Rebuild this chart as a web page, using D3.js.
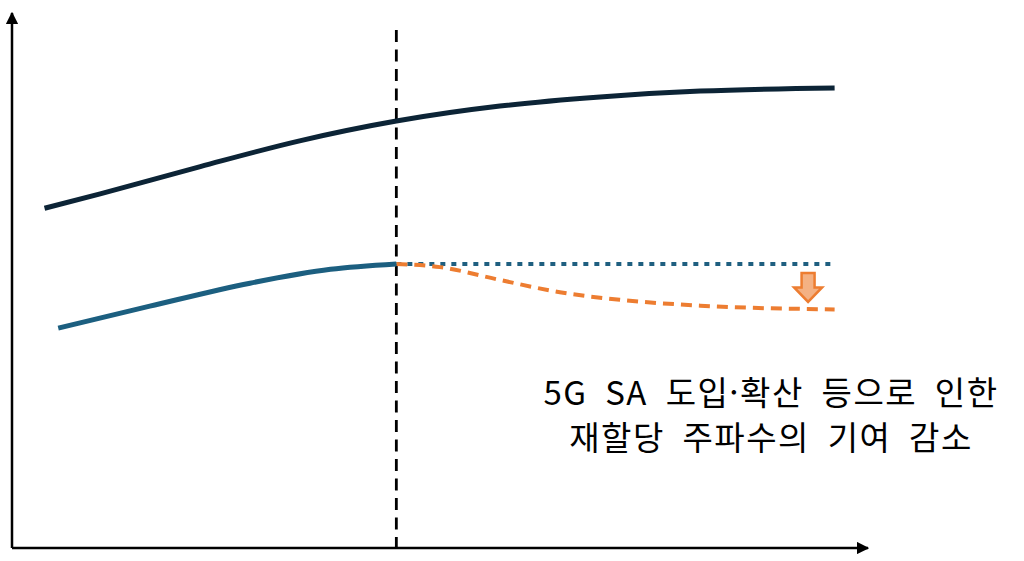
<!DOCTYPE html>
<html lang="ko">
<head>
  <meta charset="UTF-8">
  <title>reallocation-contribution</title>
  <script src="https://cdn.jsdelivr.net/npm/d3@7"></script>
  <style>
    body { margin: 0; background: #fff; }
    svg { display: block; }
  </style>
</head>
<body>
<script>
  // time (0-100) and level (0-100)
  var totalX = [3.8, 10.3, 22, 33.6, 44.9, 57, 68.7, 80.4, 96.1]
  var totalY = [63.5, 66.2, 71.3, 76.1, 79.8, 82.6, 84.3, 85.4, 86.0]
  var realX = [5.4, 16.1, 27.8, 37.2, 44.9]
  var realY = [41.1, 45.2, 49.5, 52.1, 53.1]
  var flatX = [44.9, 96.1]
  var flatY = [53.1, 53.1]
  var dropX = [44.9, 50, 57, 64, 71, 80.4, 96.1]
  var dropY = [53.1, 52.5, 50.1, 47.8, 46.4, 45.3, 44.6]
  var splitX = 44.9
  var arrowX = 93.0
  var arrowFrom = 51.4, arrowTo = 46.0
  var noteLines = ['5G SA 도입·확산 등으로 인한', '재할당 주파수의 기여 감소']

  var w = 1024, h = 561
  var x = d3.scaleLinear().domain([0, 100]).range([12, 868])
  var y = d3.scaleLinear().domain([0, 100]).range([548, 13])

  var svg = d3.select('body').append('svg').attr('width', w).attr('height', h)

  var defs = svg.append('defs')
  defs.append('marker').attr('id', 'tip')
    .attr('viewBox', '0 0 10 10').attr('refX', 9).attr('refY', 5)
    .attr('markerWidth', 5).attr('markerHeight', 5)
    .attr('markerUnits', 'strokeWidth').attr('orient', 'auto')
    .append('path').attr('d', 'M0,0 L10,5 L0,10 Z').attr('fill', '#000')

  // axes
  svg.append('line')
    .attr('x1', x(0)).attr('y1', y(0)).attr('x2', x(0)).attr('y2', y(100))
    .attr('stroke', '#000').attr('stroke-width', 2.5).attr('marker-end', 'url(#tip)')
  svg.append('line')
    .attr('x1', x(0)).attr('y1', y(0)).attr('x2', x(100)).attr('y2', y(0))
    .attr('stroke', '#000').attr('stroke-width', 2.5).attr('marker-end', 'url(#tip)')

  // split line
  svg.append('line')
    .attr('x1', x(splitX)).attr('x2', x(splitX))
    .attr('y1', y(96.8)).attr('y2', y(0))
    .attr('stroke', '#000').attr('stroke-width', 2.8).attr('stroke-dasharray', '12,7.5')

  var line = d3.line().x(function (d) { return x(d[0]) }).y(function (d) { return y(d[1]) })
    .curve(d3.curveMonotoneX)
  function pts(xs, ys) { return xs.map(function (v, i) { return [v, ys[i]] }) }

  svg.append('path').datum(pts(flatX, flatY)).attr('d', line)
    .attr('fill', 'none').attr('stroke', '#1f5f80').attr('stroke-width', 4)
    .attr('stroke-dasharray', '5,6')
  svg.append('path').datum(pts(dropX, dropY)).attr('d', line)
    .attr('fill', 'none').attr('stroke', '#ed7d31').attr('stroke-width', 4)
    .attr('stroke-dasharray', '11,7')
  svg.append('path').datum(pts(realX, realY)).attr('d', line)
    .attr('fill', 'none').attr('stroke', '#1c5f80').attr('stroke-width', 5)
  svg.append('path').datum(pts(totalX, totalY)).attr('d', line)
    .attr('fill', 'none').attr('stroke', '#0c2436').attr('stroke-width', 5)

  // down arrow
  var ax = x(arrowX), ay0 = y(arrowFrom), ay1 = y(arrowTo)
  var headY = ay0 + (ay1 - ay0) * 0.5
  svg.append('path')
    .attr('d', 'M' + (ax - 6.5) + ',' + ay0 + ' L' + (ax + 6.5) + ',' + ay0 +
      ' L' + (ax + 6.5) + ',' + headY + ' L' + (ax + 14) + ',' + headY +
      ' L' + ax + ',' + ay1 + ' L' + (ax - 14) + ',' + headY +
      ' L' + (ax - 6.5) + ',' + headY + ' Z')
    .attr('fill', '#f4b183').attr('stroke', '#ed7d31').attr('stroke-width', 2.5)
    .attr('stroke-linejoin', 'miter')

  // note
  svg.append('g').selectAll('text').data(noteLines).enter().append('text')
    .attr('x', 771)
    .attr('y', function (d, i) { return 405 + i * 45 })
    .attr('text-anchor', 'middle')
    .attr('font-family', '"Noto Sans CJK KR", "Noto Sans", sans-serif')
    .attr('font-size', '33px').attr('fill', '#000')
    .attr('letter-spacing', '1.5px').attr('word-spacing', '7px')
    .text(function (d) { return d })
</script>
</body>
</html>
